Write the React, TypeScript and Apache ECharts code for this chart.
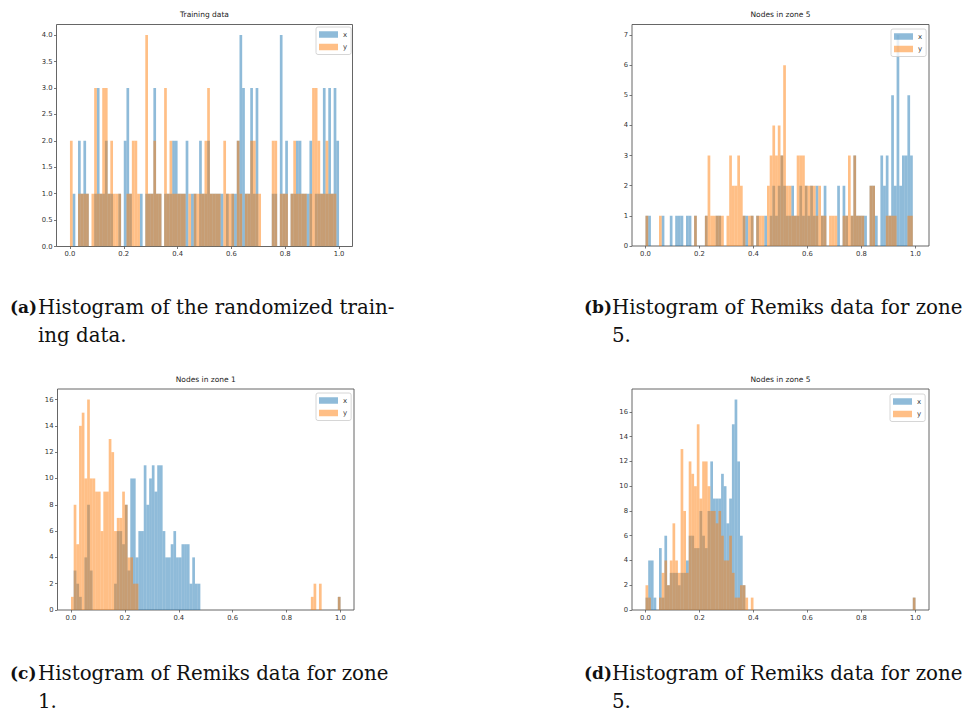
import React, { useEffect, useRef } from "react";
import * as echarts from "echarts";

// ---------- data (counts per bin, 100 bins of width 0.01 over [0, 1]) ----------
const BIN_WIDTH = 0.01;
const X_TICKS = [0, 0.2, 0.4, 0.6, 0.8, 1.0];

const TRAIN_X = [
  0, 1, 0, 2, 1, 2, 1, 0, 0, 1,
  3, 1, 1, 2, 1, 1, 0, 0, 1, 0,
  2, 3, 1, 0, 0, 0, 1, 0, 1, 1,
  1, 3, 1, 1, 0, 1, 1, 1, 2, 2,
  1, 1, 1, 2, 0, 1, 1, 0, 2, 1,
  1, 2, 1, 1, 1, 1, 1, 0, 1, 0,
  1, 1, 2, 4, 3, 1, 1, 3, 1, 3,
  0, 0, 0, 0, 0, 1, 1, 0, 4, 1,
  2, 0, 1, 1, 2, 2, 1, 1, 1, 2,
  0, 1, 1, 1, 3, 1, 3, 1, 3, 2,
];
const TRAIN_Y = [
  2, 0, 0, 1, 1, 1, 1, 0, 1, 3,
  1, 1, 3, 3, 1, 2, 1, 1, 1, 0,
  0, 1, 1, 2, 2, 1, 0, 0, 4, 1,
  1, 2, 1, 1, 0, 3, 1, 2, 1, 1,
  1, 1, 1, 0, 1, 0, 1, 1, 1, 1,
  2, 3, 1, 1, 1, 1, 0, 2, 1, 1,
  1, 0, 2, 1, 0, 1, 1, 2, 2, 1,
  1, 0, 0, 0, 0, 2, 2, 0, 1, 1,
  1, 0, 1, 2, 1, 1, 1, 1, 0, 1,
  3, 3, 2, 1, 1, 2, 1, 1, 1, 0,
];

const ZONE5B_X = [
  1, 1, 0, 0, 0, 0, 1, 0, 0, 1,
  0, 1, 1, 1, 0, 1, 1, 0, 1, 0,
  0, 0, 1, 0, 0, 0, 1, 1, 0, 0,
  0, 0, 0, 0, 0, 0, 1, 1, 0, 1,
  0, 1, 0, 0, 1, 0, 1, 2, 1, 2,
  3, 2, 1, 1, 2, 1, 1, 2, 1, 2,
  1, 2, 1, 2, 0, 1, 2, 0, 0, 0,
  0, 2, 0, 2, 1, 0, 1, 3, 1, 1,
  1, 1, 0, 2, 2, 1, 0, 3, 2, 3,
  1, 5, 2, 7, 2, 3, 3, 5, 3, 0,
];
const ZONE5B_Y = [
  1, 0, 0, 0, 0, 1, 0, 0, 0, 0,
  0, 0, 0, 0, 0, 0, 0, 0, 1, 0,
  0, 0, 1, 3, 1, 1, 1, 1, 1, 0,
  1, 3, 2, 2, 3, 2, 1, 0, 1, 1,
  0, 1, 1, 1, 0, 2, 3, 4, 3, 4,
  3, 6, 2, 2, 1, 1, 3, 3, 3, 2,
  2, 2, 2, 1, 2, 1, 1, 0, 1, 1,
  1, 0, 0, 1, 1, 3, 1, 3, 1, 1,
  1, 0, 0, 2, 2, 0, 0, 0, 0, 1,
  1, 1, 1, 0, 0, 0, 0, 1, 1, 0,
];

const ZONE1_X = [
  0, 3, 2, 1, 0, 4, 8, 3, 0, 0,
  0, 0, 0, 0, 0, 0, 2, 6, 6, 5,
  8, 3, 10, 10, 4, 6, 6, 11, 8, 10,
  11, 9, 11, 11, 6, 4, 4, 5, 6, 4,
  4, 5, 5, 5, 2, 4, 2, 2, 0, 0,
  0, 0, 0, 0, 0, 0, 0, 0, 0, 0,
  0, 0, 0, 0, 0, 0, 0, 0, 0, 0,
  0, 0, 0, 0, 0, 0, 0, 0, 0, 0,
  0, 0, 0, 0, 0, 0, 0, 0, 0, 0,
  0, 0, 0, 0, 0, 0, 0, 0, 0, 1,
];
const ZONE1_Y = [
  1, 8, 5, 14, 15, 10, 16, 10, 10, 9,
  9, 6, 9, 9, 13, 12, 6, 7, 7, 9,
  8, 4, 4, 2, 2, 0, 0, 0, 0, 0,
  0, 0, 0, 0, 0, 0, 0, 0, 0, 0,
  0, 0, 0, 0, 0, 0, 0, 0, 0, 0,
  0, 0, 0, 0, 0, 0, 0, 0, 0, 0,
  0, 0, 0, 0, 0, 0, 0, 0, 0, 0,
  0, 0, 0, 0, 0, 0, 0, 0, 0, 0,
  0, 0, 0, 0, 0, 0, 0, 0, 0, 1,
  2, 0, 2, 0, 0, 0, 0, 0, 0, 1,
];

const ZONE5D_X = [
  1, 4, 4, 1, 0, 5, 1, 6, 2, 3,
  3, 3, 2, 3, 3, 4, 6, 6, 5, 5,
  8, 6, 5, 8, 12, 9, 9, 9, 11, 10,
  7, 9, 15, 17, 12, 6, 2, 0, 0, 0,
  0, 0, 0, 0, 0, 0, 0, 0, 0, 0,
  0, 0, 0, 0, 0, 0, 0, 0, 0, 0,
  0, 0, 0, 0, 0, 0, 0, 0, 0, 0,
  0, 0, 0, 0, 0, 0, 0, 0, 0, 0,
  0, 0, 0, 0, 0, 0, 0, 0, 0, 0,
  0, 0, 0, 0, 0, 0, 0, 0, 0, 1,
];
const ZONE5D_Y = [
  2, 1, 0, 0, 0, 1, 3, 4, 2, 4,
  7, 4, 3, 13, 8, 3, 12, 11, 10, 15,
  9, 12, 12, 10, 8, 8, 7, 8, 6, 4,
  4, 6, 3, 1, 1, 2, 2, 1, 0, 1,
  0, 0, 0, 0, 0, 0, 0, 0, 0, 0,
  0, 0, 0, 0, 0, 0, 0, 0, 0, 0,
  0, 0, 0, 0, 0, 0, 0, 0, 0, 0,
  0, 0, 0, 0, 0, 0, 0, 0, 0, 0,
  0, 0, 0, 0, 0, 0, 0, 0, 0, 0,
  0, 0, 0, 0, 0, 0, 0, 0, 0, 1,
];

const Y_TICKS_A = [0, 0.5, 1, 1.5, 2, 2.5, 3, 3.5, 4];
const Y_TICKS_B = [0, 1, 2, 3, 4, 5, 6, 7];
const Y_TICKS_C = [0, 2, 4, 6, 8, 10, 12, 14, 16];
const Y_TICKS_D = [0, 2, 4, 6, 8, 10, 12, 14, 16];

const TITLES = ["Training data", "Nodes in zone 5", "Nodes in zone 1", "Nodes in zone 5"];
const LEGEND_NAMES = ["x", "y"];

const CAPTIONS = [
  { tag: "(a)", line1: "Histogram of the randomized train-", line2: "ing data." },
  { tag: "(b)", line1: "Histogram of Remiks data for zone", line2: "5." },
  { tag: "(c)", line1: "Histogram of Remiks data for zone", line2: "1." },
  { tag: "(d)", line1: "Histogram of Remiks data for zone", line2: "5." },
];

// ---------- layout ----------
const PANELS = [
  { left: 56.5, top: 24.5, width: 296, height: 222, yMax: 4.2, yTicks: Y_TICKS_A, dec: 1, xs: TRAIN_X, ys: TRAIN_Y, legend: [316, 27], capX: 10, capY: 307 },
  { left: 632, top: 24.5, width: 297, height: 221.5, yMax: 7.35, yTicks: Y_TICKS_B, dec: 0, xs: ZONE5B_X, ys: ZONE5B_Y, legend: [891, 29], capX: 584, capY: 307 },
  { left: 57.5, top: 389, width: 296.5, height: 221, yMax: 16.8, yTicks: Y_TICKS_C, dec: 0, xs: ZONE1_X, ys: ZONE1_Y, legend: [316, 393], capX: 10, capY: 673 },
  { left: 632, top: 389, width: 297, height: 221, yMax: 17.85, yTicks: Y_TICKS_D, dec: 0, xs: ZONE5D_X, ys: ZONE5D_Y, legend: [890, 394], capX: 584, capY: 673 },
];

const BLUE = "rgba(31,119,180,0.5)";
const ORANGE = "rgba(255,127,14,0.5)";
const AXIS_COLOR = "#555";
const TICK_FONT = 6.8;
const CAP_FONT = 19.8;
const TAG_FONT = 17;

const toBins = (counts: number[]) =>
  counts.map((c, i) => [i * BIN_WIDTH, (i + 1) * BIN_WIDTH, c]);

const renderHist = (_params: any, api: any) => {
  const c = api.value(2);
  if (!c) return null;
  const p0 = api.coord([api.value(0), 0]);
  const p1 = api.coord([api.value(1), c]);
  return {
    type: "rect",
    shape: { x: p0[0], y: p1[1], width: p1[0] - p0[0], height: p0[1] - p1[1] },
    style: { fill: api.visual("color") },
  };
};

export default function App() {
  const ref = useRef<HTMLDivElement>(null);

  useEffect(() => {
    document.body.style.margin = "0";
    if (!ref.current) return;
    const chart = echarts.init(ref.current, null, { renderer: "svg" });

    const grids: any[] = [];
    const xAxes: any[] = [];
    const yAxes: any[] = [];
    const series: any[] = [];
    const legends: any[] = [];
    const graphics: any[] = [];

    PANELS.forEach((p, i) => {
      grids.push({
        left: p.left, top: p.top, width: p.width, height: p.height,
        show: true, borderColor: AXIS_COLOR, borderWidth: 0.9, backgroundColor: "#fff",
      });
      xAxes.push({
        gridIndex: i, type: "value", min: -0.05, max: 1.05, position: "bottom",
        axisLine: { show: false, onZero: false }, splitLine: { show: false },
        axisTick: { show: true, length: 2.5, customValues: X_TICKS, lineStyle: { color: AXIS_COLOR, width: 0.8 } },
        axisLabel: {
          customValues: X_TICKS, margin: 4, fontSize: TICK_FONT, color: "#333", fontFamily: "DejaVu Sans",
          formatter: (v: number) => v.toFixed(1),
        },
      });
      yAxes.push({
        gridIndex: i, type: "value", min: 0, max: p.yMax, position: "left",
        axisLine: { show: false, onZero: false }, splitLine: { show: false },
        axisTick: { show: true, length: 2.5, customValues: p.yTicks, lineStyle: { color: AXIS_COLOR, width: 0.8 } },
        axisLabel: {
          customValues: p.yTicks, margin: 4, fontSize: TICK_FONT, color: "#333", fontFamily: "DejaVu Sans",
          formatter: (v: number) => v.toFixed(p.dec),
        },
      });
      series.push({
        type: "custom", name: LEGEND_NAMES[0], xAxisIndex: i, yAxisIndex: i,
        itemStyle: { color: BLUE }, renderItem: renderHist, encode: { x: [0, 1], y: 2 },
        data: toBins(p.xs), clip: true,
      });
      series.push({
        type: "custom", name: LEGEND_NAMES[1], xAxisIndex: i, yAxisIndex: i,
        itemStyle: { color: ORANGE }, renderItem: renderHist, encode: { x: [0, 1], y: 2 },
        data: toBins(p.ys), clip: true,
      });
      legends.push({
        data: LEGEND_NAMES, left: p.legend[0], top: p.legend[1], orient: "vertical",
        icon: "rect", itemWidth: 19, itemHeight: 6.5, itemGap: 3.5, selectedMode: false,
        backgroundColor: "rgba(255,255,255,0.8)", borderColor: "#ccc", borderWidth: 0.8, borderRadius: 2,
        padding: [3, 4, 3, 3],
        textStyle: { fontSize: 7, color: "#333", fontFamily: "DejaVu Sans", lineHeight: 9 },
      });
      graphics.push({
        type: "text", x: p.left + p.width / 2, y: p.top - 10,
        style: { text: TITLES[i], fontSize: 7.5, fontFamily: "DejaVu Sans", fill: "#222", align: "center", verticalAlign: "middle" },
      });
      const cap = CAPTIONS[i];
      graphics.push({
        type: "text", x: p.capX, y: p.capY,
        style: { text: cap.tag, fontSize: TAG_FONT, fontWeight: "bold", fontFamily: "DejaVu Serif", fill: "#111", align: "left", verticalAlign: "middle" },
      });
      graphics.push({
        type: "text", x: p.capX + 28, y: p.capY,
        style: { text: cap.line1, fontSize: CAP_FONT, fontFamily: "DejaVu Serif", fill: "#111", align: "left", verticalAlign: "middle" },
      });
      graphics.push({
        type: "text", x: p.capX + 28, y: p.capY + 28,
        style: { text: cap.line2, fontSize: CAP_FONT, fontFamily: "DejaVu Serif", fill: "#111", align: "left", verticalAlign: "middle" },
      });
    });

    chart.setOption({
      animation: false,
      backgroundColor: "#fff",
      grid: grids,
      xAxis: xAxes,
      yAxis: yAxes,
      series,
      legend: legends,
      graphic: graphics,
    });

    return () => chart.dispose();
  }, []);

  return <div ref={ref} style={{ width: 969, height: 711 }} />;
}
